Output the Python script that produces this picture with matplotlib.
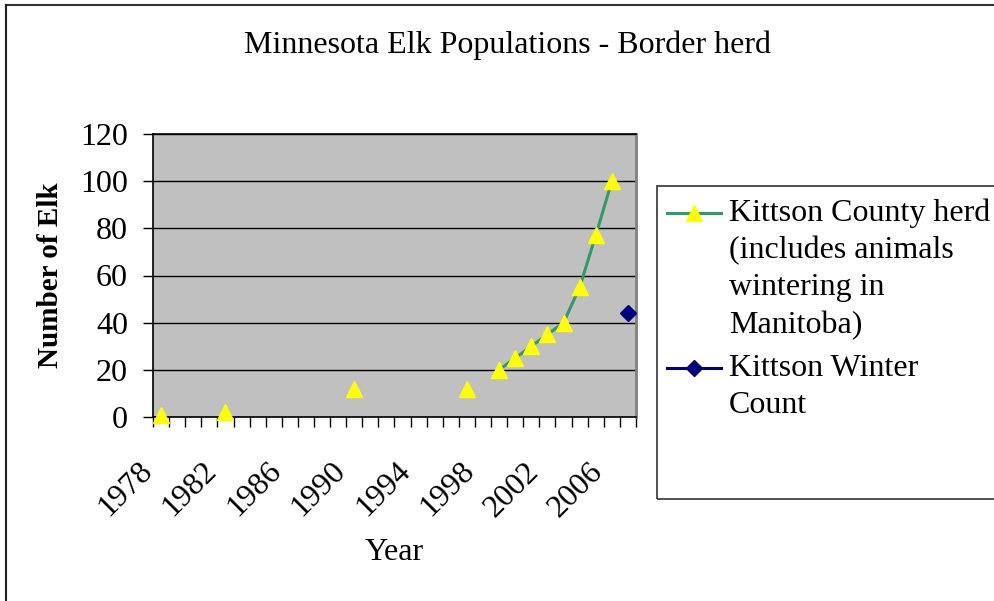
import numpy as np
import matplotlib
matplotlib.use("Agg")
import matplotlib.pyplot as plt
from matplotlib.patches import Rectangle
from matplotlib.lines import Line2D
from matplotlib.transforms import ScaledTranslation

plt.rcParams['font.family'] = ['Liberation Serif', 'DejaVu Serif']

# one category per year, 1978..2007
years = list(range(1978, 2008))
herd_years = [1978, 1982, 1990, 1997, 1999, 2000, 2001, 2002, 2003, 2004, 2005, 2006]
herd_vals = [1, 2, 12, 12, 20, 25, 30, 35, 40, 55, 77, 100]
winter_years = [2007]
winter_vals = [44]
label_years = [1978, 1982, 1986, 1990, 1994, 1998, 2002, 2006]
herd_label = ['Kittson County herd', '(includes animals', 'wintering in', 'Manitoba)']
winter_label = ['Kittson Winter', 'Count']

herd = np.full(len(years), np.nan)
for y, v in zip(herd_years, herd_vals):
    herd[years.index(y)] = v
winter = np.full(len(years), np.nan)
for y, v in zip(winter_years, winter_vals):
    winter[years.index(y)] = v
x = np.arange(len(years))

fs = 23
W, H = 995, 601

fig = plt.figure(figsize=(9.95, 6.01), dpi=100)
ax = fig.add_axes([153/W, 1 - 417/H, (636-153)/W, (417-134)/H])
ax.set_facecolor('#C0C0C0')

herd_style = dict(color='#339966', lw=2.2, marker='^', ms=11, mfc='#FFFF00', mec='#FFFF00')
winter_style = dict(color='#000080', lw=2.2, marker='D', ms=8, mfc='#000080', mec='#000080')
ax.plot(x, herd, clip_on=False, zorder=3, **herd_style)
ax.plot(x, winter, clip_on=False, zorder=3, **winter_style)

ax.set_xlim(-0.5, len(years) - 0.5)
ax.set_ylim(0, 120)
ax.set_yticks(range(0, 121, 20))
ax.tick_params(axis='y', labelsize=fs, length=7, width=1, direction='out', pad=11)
ax.yaxis.grid(True, color='black', lw=1)
ax.set_axisbelow(True)

ax.set_xticks([years.index(y) for y in label_years])
ax.set_xticklabels([str(y) for y in label_years], rotation=45, ha='right', va='center',
                   rotation_mode='anchor', fontsize=fs)
ax.tick_params(axis='x', which='major', length=0, pad=36)
shift = ScaledTranslation(-13/100, 0, fig.dpi_scale_trans)
for lab in ax.get_xticklabels():
    lab.set_transform(lab.get_transform() + shift)
ax.set_xticks(np.arange(-0.5, len(years)), minor=True)
ax.tick_params(axis='x', which='minor', length=7, width=1, direction='out')

for s in ['left', 'bottom', 'top']:
    ax.spines[s].set_color('black')
    ax.spines[s].set_linewidth(1.2)
ax.spines['right'].set_color('#808080')
ax.spines['right'].set_linewidth(2)

ax.set_ylabel('Number of Elk', fontsize=21, fontweight='bold', va='center')
ax.yaxis.set_label_coords((50-153)/(636-153), 0.5)
ax.set_xlabel('Year', fontsize=fs, va='center')
ax.xaxis.set_label_coords(0.5, -(553-417)/(417-134))
fig.text(0.51, 1 - 45/H, 'Minnesota Elk Populations - Border herd',
         ha='center', va='center', fontsize=fs)

# legend box, Excel style: symbol beside first line of each entry
fig.patches.append(Rectangle((657/W, 1 - 499/H), 345/W, (499-186)/H,
                             transform=fig.transFigure, fill=False,
                             edgecolor='#333333', lw=1.2))
row = 37.5
for lines, style, y0 in [(herd_label, herd_style, 213), (winter_label, winter_style, 368)]:
    fig.lines.append(Line2D([667/W, 721/W], [1 - y0/H] * 2, transform=fig.transFigure,
                            color=style['color'], lw=style['lw']))
    fig.lines.append(Line2D([694/W], [1 - y0/H], transform=fig.transFigure, ls='none',
                            marker=style['marker'], ms=style['ms'], mfc=style['mfc'], mec=style['mec']))
    for i, t in enumerate(lines):
        fig.text(729/W, 1 - (y0 + i*row)/H, t, ha='left', va='center', fontsize=fs)

# chart border: only top and left edges are visible in the crop
fig.lines.append(Line2D([6/W, 1], [1 - 5/H] * 2, transform=fig.transFigure, color='#333333', lw=1.5))
fig.lines.append(Line2D([6/W] * 2, [0, 1 - 5/H], transform=fig.transFigure, color='#222222', lw=1.5))

fig.savefig('out.png', dpi=100)
